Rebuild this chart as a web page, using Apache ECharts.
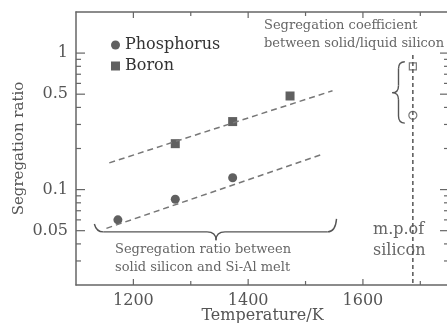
<!DOCTYPE html>
<html>
<head>
<meta charset="utf-8">
<script src="https://cdn.jsdelivr.net/npm/echarts@6/dist/echarts.min.js"></script>
<style>
  html, body { margin: 0; padding: 0; background: #fff; }
  #chart { width: 447px; height: 323px; }
</style>
</head>
<body>
<div id="chart"></div>
<script>
// measured points [temperature K, segregation ratio]
const phosphorus = [[1173, 0.060], [1273, 0.085], [1373, 0.122]];
const boron = [[1273, 0.217], [1373, 0.315], [1473, 0.485]];
// dashed fit lines (end points)
const phosphorusFit = [[1153, 0.052], [1527, 0.18]];
const boronFit = [[1158, 0.157], [1547, 0.53]];
// melting point of silicon and solid/liquid coefficients
const meltingPoint = [[1687, 0.97], [1687, 0.02]];
const kBoron = [[1687, 0.8]];
const kPhosphorus = [[1687, 0.35]];

const xMajorTicks = [1200, 1400, 1600];
const xMinorTicks = [1300, 1500, 1700];
const yMajorTicks = [0.05, 0.1, 0.5, 1];
const yMinorTicks = [0.03, 0.04, 0.06, 0.07, 0.08, 0.09, 0.2, 0.3, 0.4, 0.6, 0.7, 0.8, 0.9];

// brace anchors, in data units
const ratioBrace = { left: [1132, 0.056], right: [1554, 0.061], flatY: 0.049, tip: [1344, 0.0426] };
const coefBrace = { top: [1673, 0.864], bottom: [1673, 0.307], tip: [1651, 0.513] };

const X_MIN = 1100, X_MAX = 1750, Y_MIN = 0.02, Y_MAX = 2;
const FONT = '"DejaVu Serif", serif';
const AXIS = '#666';
const MARK = '#383838';

function bez(x1, y1, cx, cy, x2, y2) {
  return { type: 'bezierCurve', shape: { x1, y1, cpx1: cx, cpy1: cy, x2, y2 } };
}
function seg(x1, y1, x2, y2) {
  return { type: 'line', shape: { x1, y1, x2, y2 } };
}

// braces + inward frame ticks, all placed through the axes
function drawAnnotations(params, api) {
  const style = { stroke: '#555', lineWidth: 1.4, fill: null };
  // horizontal brace under the data
  const l = api.coord(ratioBrace.left), r = api.coord(ratioBrace.right), t = api.coord(ratioBrace.tip);
  const fy = api.coord([ratioBrace.left[0], ratioBrace.flatY])[1];
  const rr = 9;
  const h = [
    bez(l[0], l[1], l[0] + 2, fy, l[0] + rr, fy),
    seg(l[0] + rr, fy, t[0] - rr, fy),
    bez(t[0] - rr, fy, t[0], fy, t[0], t[1]),
    bez(t[0], t[1], t[0], fy, t[0] + rr, fy),
    seg(t[0] + rr, fy, r[0] - rr, fy),
    bez(r[0] - rr, fy, r[0] - 1, fy, r[0], r[1]),
  ];
  // vertical brace next to the m.p. line
  const a = api.coord(coefBrace.top), b = api.coord(coefBrace.bottom), c = api.coord(coefBrace.tip);
  const sx = (a[0] + c[0]) / 2;
  const rv = 7;
  const v = [
    bez(a[0], a[1], sx, a[1], sx, a[1] + rv),
    seg(sx, a[1] + rv, sx, c[1] - rv),
    bez(sx, c[1] - rv, sx, c[1], c[0], c[1]),
    bez(c[0], c[1], sx, c[1], sx, c[1] + rv),
    seg(sx, c[1] + rv, sx, b[1] - rv),
    bez(sx, b[1] - rv, sx, b[1], b[0], b[1]),
  ];
  const strokes = h.concat(v).map((el) => Object.assign(el, { style: Object.assign({}, style) }));

  const ticks = [];
  const addX = (vals, len) => vals.forEach((val) => {
    const pb = api.coord([val, Y_MIN]);
    const pt = api.coord([val, Y_MAX]);
    ticks.push({ type: 'rect', shape: { x: pb[0] - 0.6, y: pb[1] - len, width: 1.2, height: len }, style: { fill: AXIS } });
    ticks.push({ type: 'rect', shape: { x: pt[0] - 0.6, y: pt[1], width: 1.2, height: len }, style: { fill: AXIS } });
  });
  const addY = (vals, len) => vals.forEach((val) => {
    const pl = api.coord([X_MIN, val]);
    const pr = api.coord([X_MAX, val]);
    ticks.push({ type: 'rect', shape: { x: pl[0], y: pl[1] - 0.6, width: len, height: 1.2 }, style: { fill: AXIS } });
    ticks.push({ type: 'rect', shape: { x: pr[0] - len, y: pr[1] - 0.6, width: len, height: 1.2 }, style: { fill: AXIS } });
  });
  addX(xMajorTicks, 6);
  addX(xMinorTicks, 4);
  addY(yMajorTicks, 9);
  addY(yMinorTicks, 5);
  return { type: 'group', children: strokes.concat(ticks) };
}

function axisBase(extra) {
  return Object.assign({
    axisLine: { show: true, lineStyle: { color: AXIS, width: 1.5 } },
    axisTick: { show: false },
    axisLabel: { show: false },
    splitLine: { show: false },
  }, extra);
}

const chart = echarts.init(document.getElementById('chart'));
chart.setOption({
  animation: false,
  backgroundColor: '#fff',
  grid: { left: 76, right: -2, top: 12, bottom: 38, outerBoundsMode: 'none' },
  legend: {
    data: ['Phosphorus', 'Boron'],
    orient: 'vertical',
    left: 106,
    top: 32,
    itemWidth: 9,
    itemHeight: 9,
    itemGap: 5,
    selectedMode: false,
    textStyle: { fontFamily: FONT, fontSize: 16, color: '#333', lineHeight: 16 },
  },
  xAxis: [
    axisBase({
      type: 'value', position: 'bottom', min: X_MIN, max: X_MAX,
      name: 'Temperature/K',
      nameLocation: 'middle',
      nameGap: 23,
      nameMoveOverlap: false,
      nameTextStyle: { fontFamily: FONT, fontSize: 16, color: '#555' },
      axisLabel: {
        show: true, customValues: xMajorTicks, margin: 8, fontFamily: FONT, fontSize: 16, color: '#555',
        formatter: (v) => String(v),
      },
    }),
    axisBase({ type: 'value', position: 'top', min: X_MIN, max: X_MAX }),
  ],
  yAxis: [
    axisBase({
      type: 'log', position: 'left', min: Y_MIN, max: Y_MAX,
      name: 'Segregation ratio',
      nameLocation: 'middle',
      nameGap: 49,
      nameMoveOverlap: false,
      nameTextStyle: { fontFamily: FONT, fontSize: 15, color: '#555' },
      axisLabel: {
        show: true, customValues: yMajorTicks, margin: 8, fontFamily: FONT, fontSize: 16, color: '#555',
        formatter: (v) => String(+v.toPrecision(3)),
      },
    }),
    axisBase({ type: 'log', position: 'right', min: Y_MIN, max: Y_MAX, axisLine: { show: false } }),
  ],
  graphic: [
    {
      type: 'text', left: 264, top: 17,
      style: { text: 'Segregation coefficient\nbetween solid/liquid silicon', font: '13px ' + FONT, fill: '#666', lineHeight: 18 },
    },
    {
      type: 'text', left: 115, top: 241,
      style: { text: 'Segregation ratio between\nsolid silicon and Si-Al melt', font: '13px ' + FONT, fill: '#666', lineHeight: 18 },
    },
    {
      type: 'text', left: 373, top: 219,
      style: { text: 'm.p.of\nsilicon', font: '16px ' + FONT, fill: '#666', lineHeight: 21 },
    },
  ],
  series: [
    {
      type: 'line', data: phosphorusFit, symbol: 'none', silent: true,
      lineStyle: { type: [6, 4], color: '#777', width: 1.5 },
    },
    {
      type: 'line', data: boronFit, symbol: 'none', silent: true,
      lineStyle: { type: [6, 4], color: '#777', width: 1.5 },
    },
    {
      type: 'line', data: meltingPoint, symbol: 'none', silent: true,
      lineStyle: { type: [4, 3], color: '#555', width: 1.5 },
    },
    { name: 'Phosphorus', type: 'scatter', data: phosphorus, symbol: 'circle', symbolSize: 9, itemStyle: { color: MARK } },
    { name: 'Boron', type: 'scatter', data: boron, symbol: 'rect', symbolSize: 9, itemStyle: { color: MARK } },
    {
      type: 'scatter', data: kBoron, symbol: 'rect', symbolSize: 7,
      itemStyle: { color: '#fff', borderColor: '#555', borderWidth: 1.2 },
    },
    {
      type: 'scatter', data: kPhosphorus, symbol: 'circle', symbolSize: 8,
      itemStyle: { color: '#fff', borderColor: '#555', borderWidth: 1.2 },
    },
    { type: 'custom', data: [[1300, 0.05]], renderItem: drawAnnotations, silent: true, clip: false },
  ],
});
</script>
</body>
</html>
